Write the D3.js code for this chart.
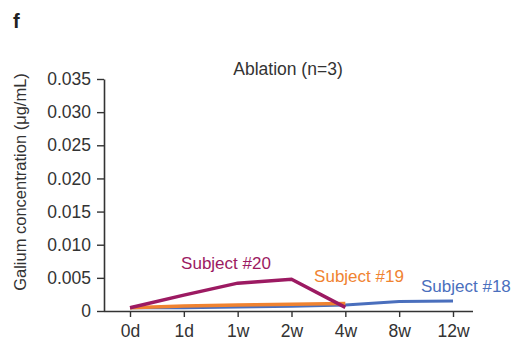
<!DOCTYPE html>
<html><head><meta charset="utf-8">
<script src="https://cdn.jsdelivr.net/npm/d3@7"></script>
<style>body{margin:0;background:#fff}svg{display:block}text{font-family:"Liberation Sans",Arial,sans-serif}</style>
</head><body><svg id="c" width="511" height="341"></svg>
<script>
const categories = ["0d","1d","1w","2w","4w","8w","12w"];
const yTicks = [0,0.005,0.010,0.015,0.020,0.025,0.030,0.035];
const yTickLabels = ["0","0.005","0.010","0.015","0.020","0.025","0.030","0.035"];
const subject18 = [0.0005,0.0005,0.0006,0.0007,0.0009,0.00145,0.0015];
const subject19 = [0.0005,0.00075,0.0009,0.001,0.00115,null,null];
const subject20 = [0.0005,0.0024,0.0042,0.0048,0.00055,null,null];
const seriesNames = ["Subject #18","Subject #19","Subject #20"];
const colors = ["#4a6fbd","#f08331","#9c1a62"];

const svg = d3.select("#c");
const x = d3.scalePoint().domain(categories).range([130,453]);
const y = d3.scaleLinear().domain([0,0.035]).range([311,79]);
const axCol = "#333";

svg.append("text").attr("x",13).attr("y",28).attr("font-size",20).attr("font-weight","bold").attr("fill","#222").text("f");
svg.append("text").attr("x",288).attr("y",74.5).attr("text-anchor","middle").attr("font-size",17.5).attr("fill","#333").text("Ablation (n=3)");

const yAx = svg.append("g").attr("transform","translate(104,0)")
  .call(d3.axisLeft(y).tickValues(yTicks).tickFormat((d,i)=>yTickLabels[i]).tickSize(7).tickSizeOuter(0));
const xAx = svg.append("g").attr("transform","translate(0,311)")
  .call(d3.axisBottom(x).tickSize(6).tickSizeOuter(0));
xAx.select(".domain").attr("d","M104,0.5H473");
[yAx,xAx].forEach(g=>{
  g.select(".domain").attr("stroke",axCol).attr("stroke-width",1.6);
  g.selectAll(".tick line").attr("stroke",axCol).attr("stroke-width",1.4);
  g.selectAll(".tick text").attr("font-size",17.5).attr("fill","#333").style("font-family","Liberation Sans, Arial, sans-serif");
});
yAx.selectAll(".tick text").attr("x",-13);
xAx.selectAll(".tick text").attr("y",14);

svg.append("text").attr("transform","translate(26,182) rotate(-90)").attr("text-anchor","middle")
  .attr("font-size",16.5).attr("fill","#333").text("Galium concentration (μg/mL)");

const line = d3.line().defined(d=>d.v!==null).x(d=>x(d.c)).y(d=>y(d.v));
[subject18,subject19,subject20].forEach((s,i)=>{
  svg.append("path").datum(s.map((v,j)=>({c:categories[j],v})))
    .attr("d",line).attr("fill","none").attr("stroke",colors[i])
    .attr("stroke-width",i===0?3:3.5).attr("stroke-linejoin","miter");
});

const labelPos = [[421,292,"start"],[359,282,"middle"],[226,269,"middle"]];
seriesNames.forEach((n,i)=>{
  svg.append("text").attr("x",labelPos[i][0]).attr("y",labelPos[i][1]).attr("text-anchor",labelPos[i][2])
    .attr("font-size",17).attr("fill",colors[i]).text(n);
});
</script></body></html>
